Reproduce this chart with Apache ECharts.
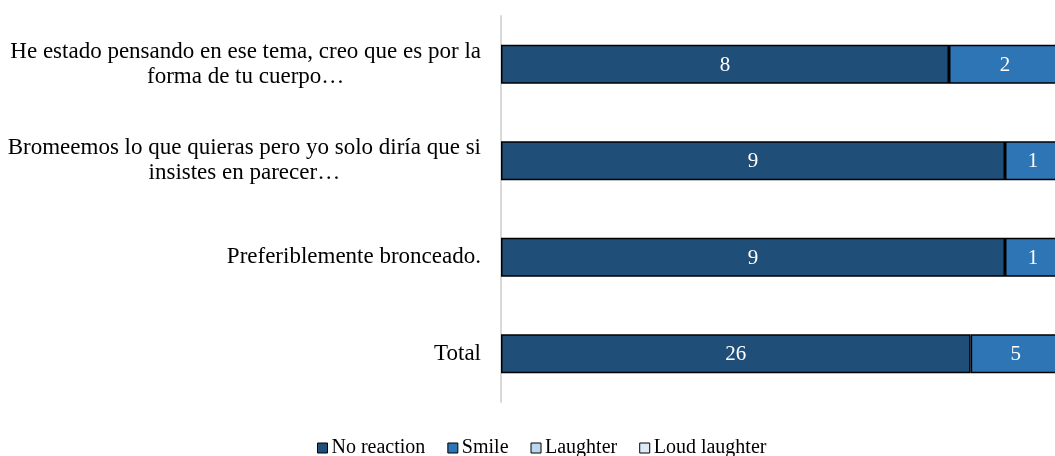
<!DOCTYPE html>
<html>
<head>
<meta charset="utf-8">
<script src="https://cdn.jsdelivr.net/npm/echarts@6/dist/echarts.min.js"></script>
<style>
  html, body { margin: 0; padding: 0; background: #ffffff; overflow: hidden; }
  #chart { width: 1075px; height: 456px; }
</style>
</head>
<body>
<div id="chart"></div>
<script>
// Phrases (top to bottom) and reaction counts per phrase
const categories = [
  'He estado pensando en ese tema, creo que es por la\nforma de tu cuerpo…',
  'Bromeemos lo que quieras pero yo solo diría que si\ninsistes en parecer…',
  'Preferiblemente bronceado.',
  'Total'
];
const seriesNames = ['No reaction', 'Smile', 'Laughter', 'Loud laughter'];
const noReaction = [8, 9, 9, 26];
const smile = [2, 1, 1, 5];
const laughter = [0, 0, 0, 0];
const loudLaughter = [0, 0, 0, 0];
const colors = ['#1f4e79', '#2e75b6', '#bdd7ee', '#deebf7'];

const counts = [noReaction, smile, laughter, loudLaughter];
const rowTotals = categories.map((_, i) => counts.reduce((s, arr) => s + arr[i], 0));

const serif = '"Liberation Serif", "Times New Roman", serif';

// 100% stacked bars; each segment is labelled with its raw count
const series = counts.map((arr, k) => ({
  name: seriesNames[k],
  type: 'bar',
  stack: 'share',
  barWidth: 39,
  data: arr.map((v, i) => ({ value: v / rowTotals[i] * 100, count: v })),
  itemStyle: { color: colors[k], borderColor: '#000000', borderWidth: 1.5 },
  label: {
    show: true,
    position: 'inside',
    color: '#ffffff',
    fontFamily: serif,
    fontSize: 21,
    offset: [0, 1],
    formatter: p => (p.data.count > 0 ? String(p.data.count) : '')
  },
  emphasis: { disabled: true }
}));

const chart = echarts.init(document.getElementById('chart'), null, { renderer: 'canvas' });
chart.setOption({
  animation: false,
  backgroundColor: '#ffffff',
  grid: { left: 501, top: 16, width: 560, height: 386, containLabel: false },
  xAxis: {
    type: 'value',
    min: 0,
    max: 100,
    show: false,
    splitLine: { show: false }
  },
  yAxis: {
    type: 'category',
    data: categories,
    inverse: true,
    axisLine: { show: true, lineStyle: { color: '#d9d9d9', width: 2 } },
    axisTick: { show: false },
    axisLabel: {
      margin: 20,
      color: '#000000',
      fontFamily: serif,
      fontSize: 23,
      lineHeight: 25,
      align: 'right',
      formatter: v => v.split('\n').map(s => '{c|' + s + '}').join('\n'),
      rich: {
        c: { align: 'center', fontFamily: serif, fontSize: 23, lineHeight: 25, color: '#000000' }
      }
    }
  },
  legend: {
    data: seriesNames,
    left: 317,
    top: 438,
    icon: 'rect',
    itemWidth: 10,
    itemHeight: 10,
    itemGap: 22,
    padding: 0,
    textStyle: { fontFamily: serif, fontSize: 20, color: '#000000', padding: [0, 0, 0, -1] },
    itemStyle: { borderColor: '#000000', borderWidth: 1 }
  },
  series: series
});
</script>
</body>
</html>
